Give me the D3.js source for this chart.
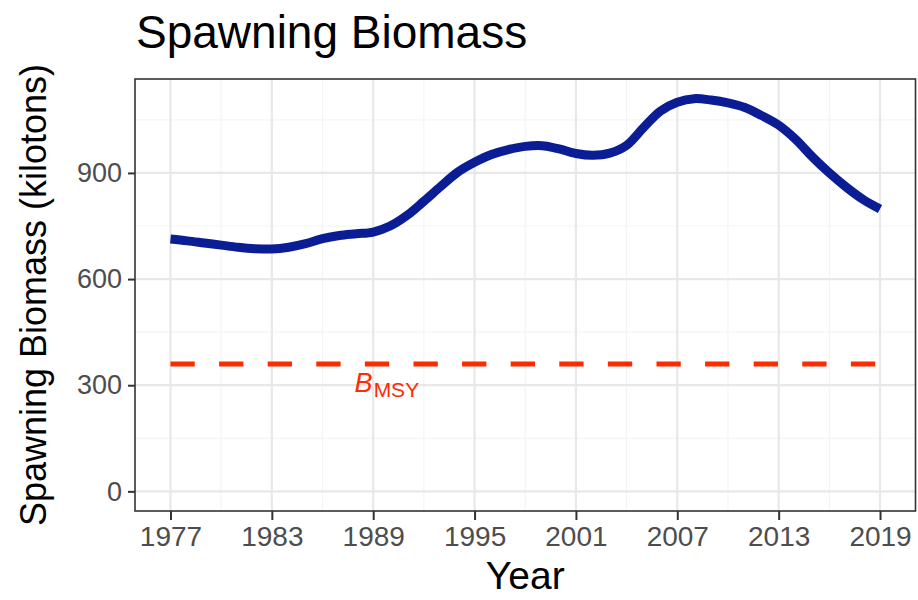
<!DOCTYPE html>
<html>
<head>
<meta charset="utf-8">
<script src="https://cdn.jsdelivr.net/npm/d3@7"></script>
<style>
  html, body { margin: 0; padding: 0; background: #ffffff; }
  svg { display: block; font-family: "Liberation Sans", Arial, Helvetica, sans-serif; }
</style>
</head>
<body>
<svg id="chart" width="918" height="600"></svg>
<script>
// ---- data ----
const years = [1977,1978,1979,1980,1981,1982,1983,1984,1985,1986,1987,1988,1989,1990,1991,1992,1993,1994,1995,1996,1997,1998,1999,2000,2001,2002,2003,2004,2005,2006,2007,2008,2009,2010,2011,2012,2013,2014,2015,2016,2017,2018,2019];
const biomass = [713,708,702,696,690,686,685,690,700,714,723,728,733,750,780,820,862,902,930,952,966,975,977,968,955,950,956,978,1028,1075,1100,1110,1106,1098,1085,1062,1035,995,945,900,860,825,798];
const bmsy = 360;
const xTicks = [1977,1983,1989,1995,2001,2007,2013,2019];
const xMinorTicks = [1980,1986,1992,1998,2004,2010,2016];
const yTicks = [0,300,600,900];
const yMinorTicks = [150,450,750,1050];
const titleText = "Spawning Biomass";
const xTitle = "Year";
const yTitle = "Spawning Biomass (kilotons)";

// ---- layout ----
const W = 918, H = 600;
const panel = { left: 135, right: 915.5, top: 79, bottom: 511 };
const svg = d3.select("#chart");

const xMin = d3.min(years), xMax = d3.max(years);
const xPad = (xMax - xMin) * 0.05;
const x = d3.scaleLinear().domain([xMin - xPad, xMax + xPad]).range([panel.left, panel.right]);
const yMaxData = d3.max(biomass);
const yPad = yMaxData * 0.05;
const y = d3.scaleLinear().domain([0 - yPad, yMaxData + yPad]).range([panel.bottom, panel.top]);

// panel background
svg.append("rect")
  .attr("x", panel.left).attr("y", panel.top)
  .attr("width", panel.right - panel.left).attr("height", panel.bottom - panel.top)
  .attr("fill", "#ffffff");

// grid
const grid = svg.append("g");
grid.selectAll(".vminor").data(xMinorTicks).join("line")
  .attr("x1", d => x(d)).attr("x2", d => x(d))
  .attr("y1", panel.top).attr("y2", panel.bottom)
  .attr("stroke", "#f4f4f4").attr("stroke-width", 1.2);
grid.selectAll(".hminor").data(yMinorTicks).join("line")
  .attr("y1", d => y(d)).attr("y2", d => y(d))
  .attr("x1", panel.left).attr("x2", panel.right)
  .attr("stroke", "#f4f4f4").attr("stroke-width", 1.2);
grid.selectAll(".vmajor").data(xTicks).join("line")
  .attr("x1", d => x(d)).attr("x2", d => x(d))
  .attr("y1", panel.top).attr("y2", panel.bottom)
  .attr("stroke", "#e8e8e8").attr("stroke-width", 2.2);
grid.selectAll(".hmajor").data(yTicks).join("line")
  .attr("y1", d => y(d)).attr("y2", d => y(d))
  .attr("x1", panel.left).attr("x2", panel.right)
  .attr("stroke", "#e8e8e8").attr("stroke-width", 2.2);

// BMSY dashed line
svg.append("line")
  .attr("x1", x(xMin)).attr("x2", x(xMax))
  .attr("y1", y(bmsy)).attr("y2", y(bmsy))
  .attr("stroke", "#ff2a00").attr("stroke-width", 5)
  .attr("stroke-dasharray", "24.3 24.3");

// BMSY label
const lbl = svg.append("text")
  .attr("x", x(1987.9)).attr("y", 392)
  .attr("fill", "#ff2a00");
lbl.append("tspan").attr("font-style", "italic").attr("font-size", 27).text("B");
lbl.append("tspan").attr("font-size", 21).attr("dx", 1).attr("dy", 5).text("MSY");

// biomass line
const line = d3.line()
  .x((d, i) => x(years[i]))
  .y(d => y(d))
  .curve(d3.curveCatmullRom.alpha(0.5));
svg.append("path")
  .datum(biomass)
  .attr("d", line)
  .attr("fill", "none")
  .attr("stroke", "#0b1d94")
  .attr("stroke-width", 9)
  .attr("stroke-linejoin", "round")
  .attr("stroke-linecap", "butt");

// panel border
svg.append("rect")
  .attr("x", panel.left).attr("y", panel.top)
  .attr("width", panel.right - panel.left).attr("height", panel.bottom - panel.top)
  .attr("fill", "none").attr("stroke", "#333333").attr("stroke-width", 1.6);

// axes
const xAxis = d3.axisBottom(x).tickValues(xTicks).tickFormat(d3.format("d"))
  .tickSize(9).tickPadding(6);
const gx = svg.append("g").attr("transform", `translate(0,${panel.bottom})`).call(xAxis);
gx.select(".domain").remove();
gx.selectAll(".tick line").attr("stroke", "#333333").attr("stroke-width", 2);
gx.selectAll(".tick text").attr("fill", "#4d4d4d").attr("font-size", 28)
  .attr("font-family", "Liberation Sans, Arial, sans-serif");

const yAxis = d3.axisLeft(y).tickValues(yTicks).tickFormat(d3.format("d"))
  .tickSize(7).tickPadding(6);
const gy = svg.append("g").attr("transform", `translate(${panel.left},0)`).call(yAxis);
gy.select(".domain").remove();
gy.selectAll(".tick line").attr("stroke", "#333333").attr("stroke-width", 2);
gy.selectAll(".tick text").attr("fill", "#4d4d4d").attr("font-size", 27)
  .attr("font-family", "Liberation Sans, Arial, sans-serif");

// titles
svg.append("text")
  .attr("x", panel.left + 1).attr("y", 48)
  .attr("font-size", 46).attr("fill", "#000")
  .text(titleText);

svg.append("text")
  .attr("x", (panel.left + panel.right) / 2).attr("y", 589)
  .attr("text-anchor", "middle")
  .attr("font-size", 39).attr("fill", "#000")
  .text(xTitle);

svg.append("text")
  .attr("transform", `translate(46,${(panel.top + panel.bottom) / 2}) rotate(-90)`)
  .attr("text-anchor", "middle")
  .attr("font-size", 36).attr("fill", "#000")
  .text(yTitle);
</script>
</body>
</html>
